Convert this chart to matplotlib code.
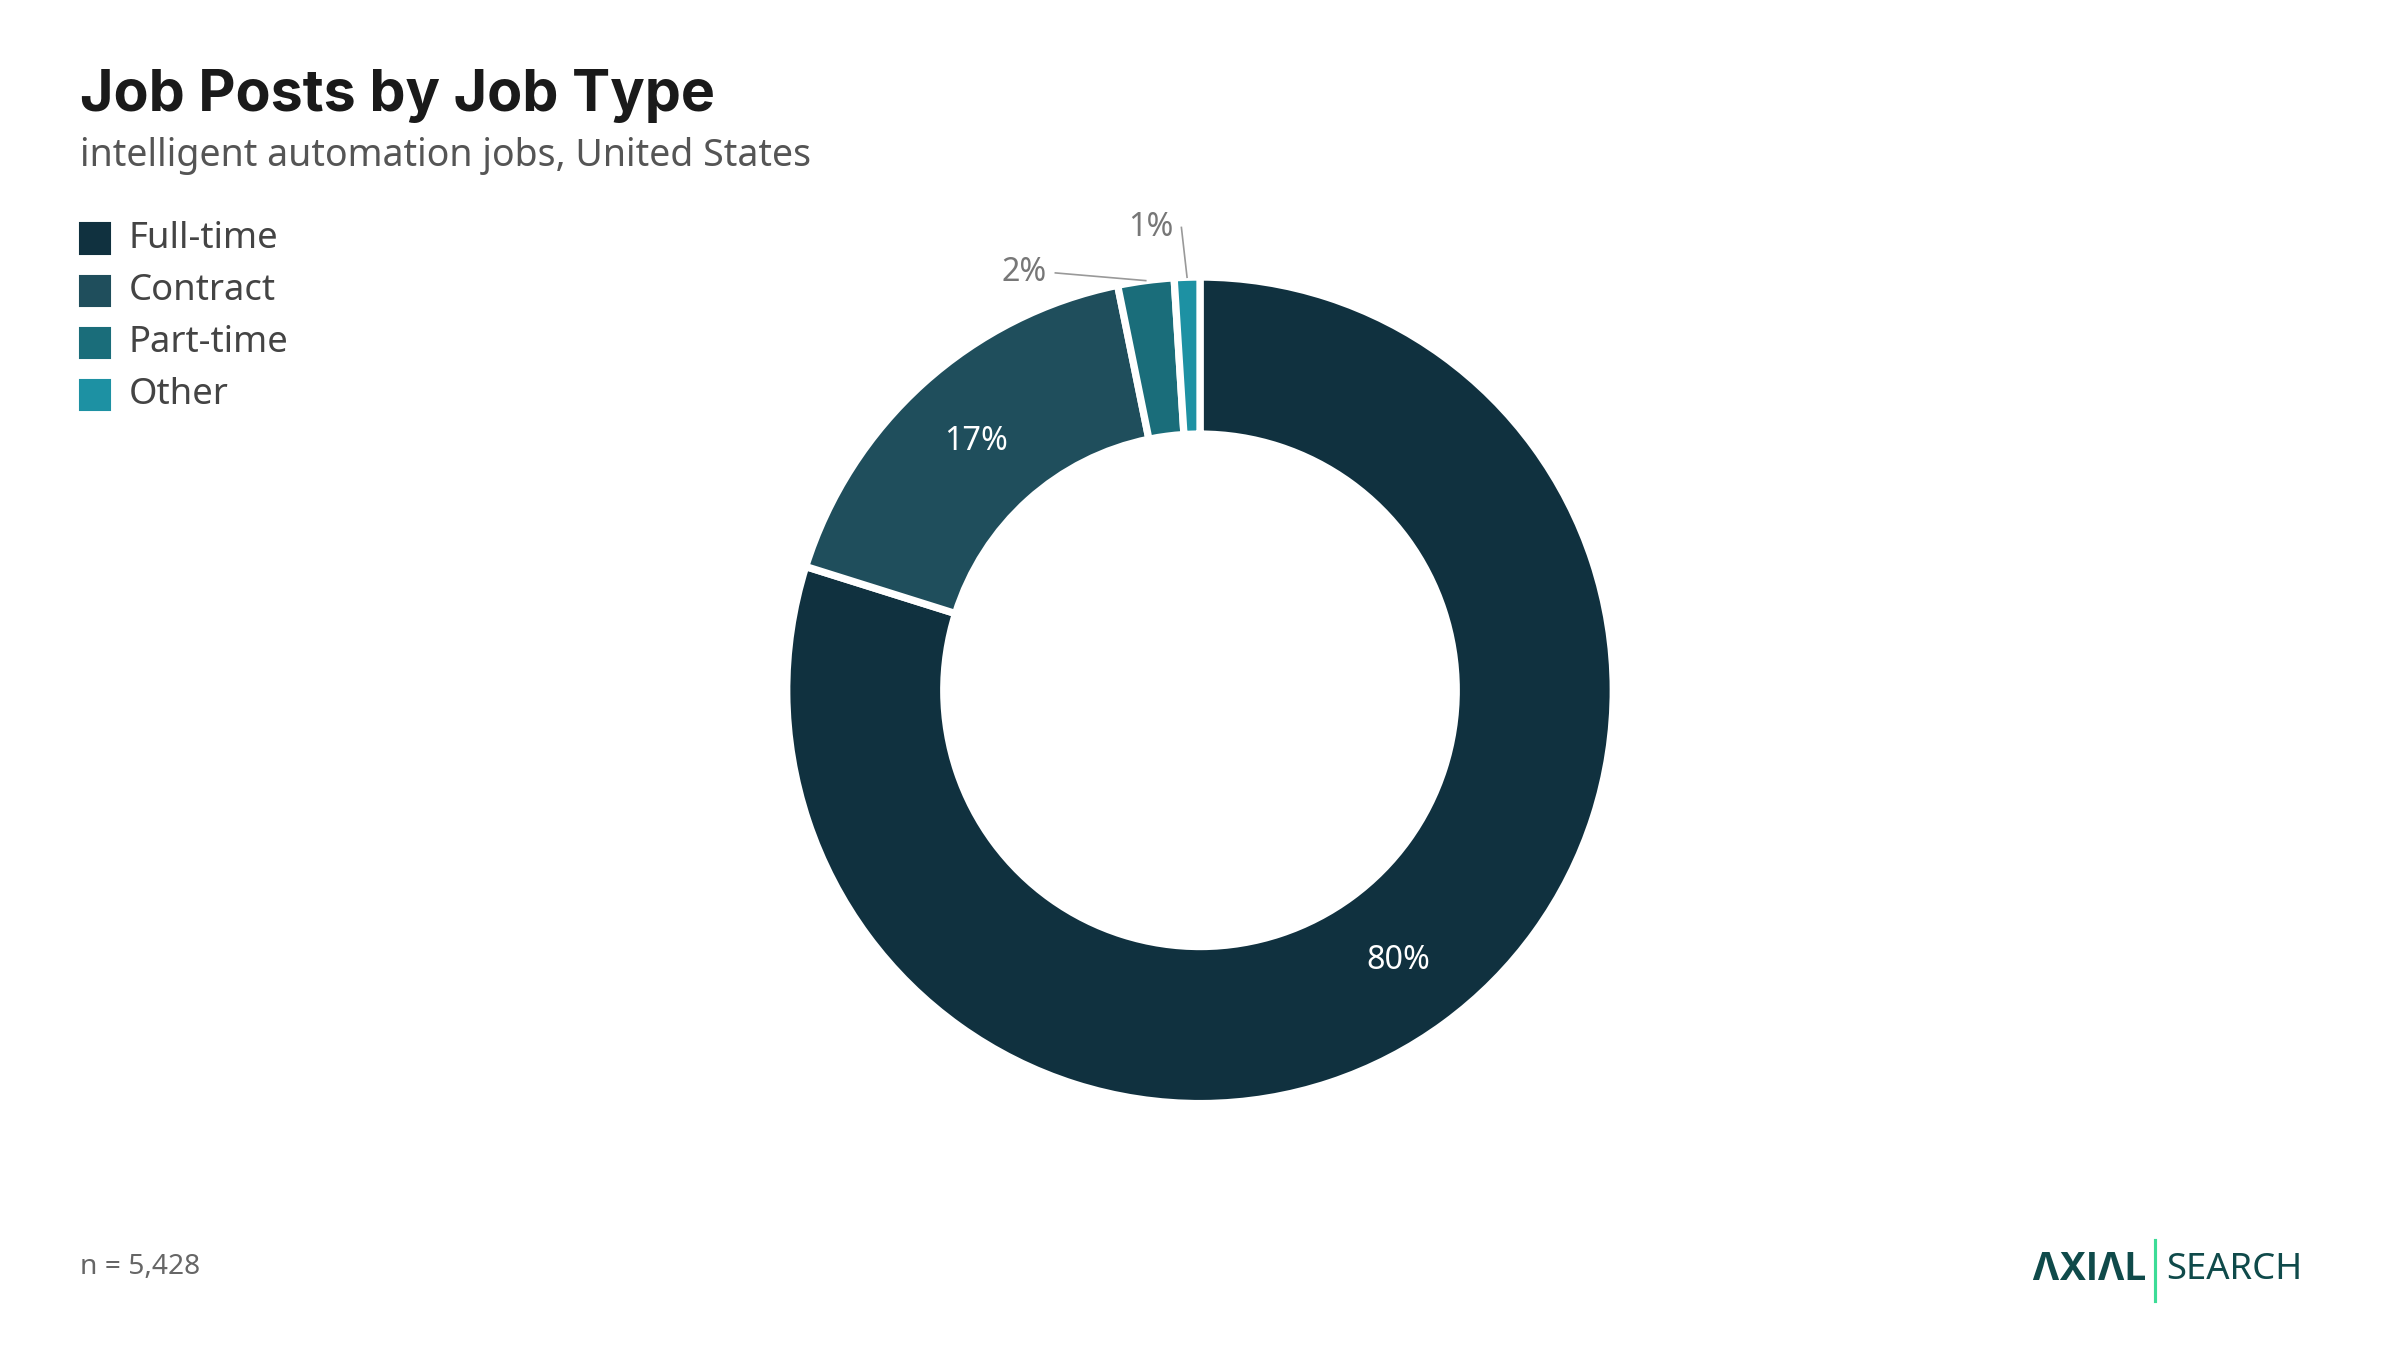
import matplotlib.pyplot as plt
import numpy as np

labels = ['Full-time', 'Contract', 'Part-time', 'Other']
shares = [80, 17, 2.2, 1]
pct_text = ['80%', '17%', '2%', '1%']
colors = ['#10313f', '#1f4e5c', '#1a6d7a', '#1d91a3']

plt.rcParams['font.family'] = ['Noto Sans', 'DejaVu Sans']

fig = plt.figure(figsize=(16, 9), dpi=150)
W, H = 1568, 882

def fx(x): return x / W
def fy(y): return 1 - y / H

fig.text(fx(52), fy(63), 'Job Posts by Job Type', fontsize=27.5, fontweight='bold',
         family=['Inter', 'DejaVu Sans'], color='#1a1a1a', va='center')
fig.text(fx(52), fy(102), 'intelligent automation jobs, United States', fontsize=18,
         color='#555555', va='center')

for i, (lab, c) in enumerate(zip(labels, colors)):
    y = 156 + 34 * i
    fig.patches.append(plt.Rectangle((fx(52), fy(y + 10)), fx(20), 20 / H,
                                     transform=fig.transFigure, color=c))
    fig.text(fx(84), fy(y), lab, fontsize=17.5, color='#444444', va='center')

fig.text(fx(52), fy(828), 'n = 5,428', fontsize=13.5, color='#666666', va='center')
fig.text(fx(1327), fy(830), 'ΛXIΛL', fontsize=18, fontweight='bold',
         family=['Inter', 'DejaVu Sans'], color='#0f4a4a', va='center')
fig.lines.append(plt.Line2D([fx(1408), fx(1408)], [fy(810), fy(850)],
                            transform=fig.transFigure, color='#3ddc97', lw=1.5))
fig.text(fx(1415), fy(830), 'SEARCH', fontsize=17.5, color='#0f4a4a', va='center')

r_ax = 270 / H
w = 2 * r_ax * 9 / 16
ax = fig.add_axes([0.5 - w / 2, fy(451) - r_ax, w, 2 * r_ax])
wedges, _ = ax.pie(shares, colors=colors, startangle=90, counterclock=False,
                   radius=1, wedgeprops=dict(width=0.38, edgecolor='white', linewidth=3.5))
ax.set_xlim(-1, 1)
ax.set_ylim(-1, 1)
ax.set_aspect('equal')

angles = [np.deg2rad((wd.theta1 + wd.theta2) / 2) for wd in wedges]

for k in (0, 1):
    a = angles[k]
    ax.text(0.81 * np.cos(a), 0.81 * np.sin(a), pct_text[k], color='white',
            fontsize=15.5, ha='center', va='center')

# outside labels with leader lines
a = angles[2]
p = (1.0 * np.cos(a), 1.0 * np.sin(a))
ax.plot([p[0], -0.35], [p[1], 1.01], color='#999999', lw=0.8, clip_on=False)
ax.text(-0.37, 1.01, pct_text[2], color='#777777', fontsize=15.5, ha='right', va='center', clip_on=False)
a = angles[3]
p = (1.0 * np.cos(a), 1.0 * np.sin(a))
ax.plot([p[0], -0.045], [p[1], 1.12], color='#999999', lw=0.8, clip_on=False)
ax.text(-0.065, 1.12, pct_text[3], color='#777777', fontsize=15.5, ha='right', va='center', clip_on=False)

fig.savefig('out.png', dpi=150)
